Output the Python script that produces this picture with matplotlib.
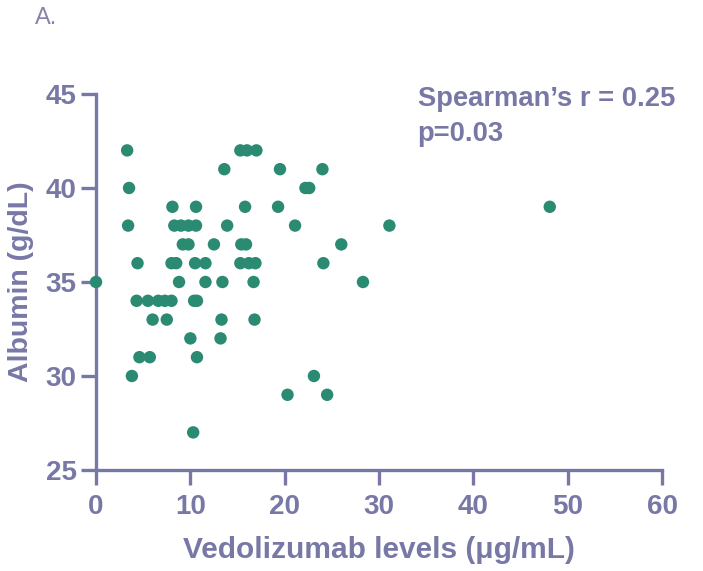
import matplotlib
matplotlib.use("Agg")
import matplotlib.pyplot as plt

# Data (Vedolizumab levels, Albumin)
vedo = [3.3, 15.3, 16.0, 17.0,
        13.6, 19.5, 24.0,
        3.5, 22.2, 22.6,
        8.1, 10.6, 15.8, 19.3, 48.1,
        3.4, 8.3, 9.0, 9.8, 10.6, 13.9, 21.1, 31.1,
        9.2, 9.8, 12.5, 15.4, 15.9, 26.0,
        4.4, 8.0, 8.5, 10.5, 11.6, 15.3, 16.2, 16.9, 24.1,
        0.0, 8.8, 11.6, 13.4, 16.7, 28.3,
        4.3, 5.5, 6.6, 7.3, 8.0, 10.4, 10.7,
        6.0, 7.5, 13.3, 16.8,
        10.0, 13.2,
        4.6, 5.7, 10.7,
        3.8, 23.1,
        20.3, 24.5,
        10.3]
albumin = [42, 42, 42, 42,
           41, 41, 41,
           40, 40, 40,
           39, 39, 39, 39, 39,
           38, 38, 38, 38, 38, 38, 38, 38,
           37, 37, 37, 37, 37, 37,
           36, 36, 36, 36, 36, 36, 36, 36, 36,
           35, 35, 35, 35, 35, 35,
           34, 34, 34, 34, 34, 34, 34,
           33, 33, 33, 33,
           32, 32,
           31, 31, 31,
           30, 30,
           29, 29,
           27]
x_ticks = [0, 10, 20, 30, 40, 50, 60]
y_ticks = [25, 30, 35, 40, 45]

axis_col = "#7878a6"
pt_col = "#2b8a72"

plt.rcParams['font.family'] = ['Liberation Sans', 'DejaVu Sans']

fig = plt.figure(figsize=(7.03, 5.71), dpi=100)
ax = fig.add_axes([0.1366, 0.1769, 0.8051, 0.6585])

ax.scatter(vedo, albumin, s=80, color=pt_col, edgecolors='none', zorder=3, clip_on=False)

ax.set_xlim(0, 60)
ax.set_ylim(25, 45)
ax.set_xticks(x_ticks)
ax.set_yticks(y_ticks)

for side in ['top', 'right']:
    ax.spines[side].set_visible(False)
for side in ['left', 'bottom']:
    ax.spines[side].set_color(axis_col)
    ax.spines[side].set_linewidth(2.4)

ax.tick_params(axis='both', colors=axis_col, width=2.4, length=11, labelsize=20)
ax.tick_params(axis='x', pad=6)
ax.tick_params(axis='y', pad=3)
for lab in ax.get_xticklabels() + ax.get_yticklabels():
    lab.set_fontweight('bold')

ax.set_xlabel("Vedolizumab levels (μg/mL)", fontsize=21.5, fontweight='bold', color=axis_col, labelpad=12)
ax.set_ylabel("Albumin (g/dL)", fontsize=20.5, fontweight='bold', color=axis_col, labelpad=8)

ax.text(34.1, 45.4, "Spearman’s r = 0.25\np=0.03", fontsize=19.7, fontweight='bold',
        color=axis_col, va='top', ha='left', linespacing=1.45)

fig.text(0.05, 0.988, "A.", fontsize=17, color="#8585aa", va='top', ha='left')

fig.savefig("out.png", dpi=100)
